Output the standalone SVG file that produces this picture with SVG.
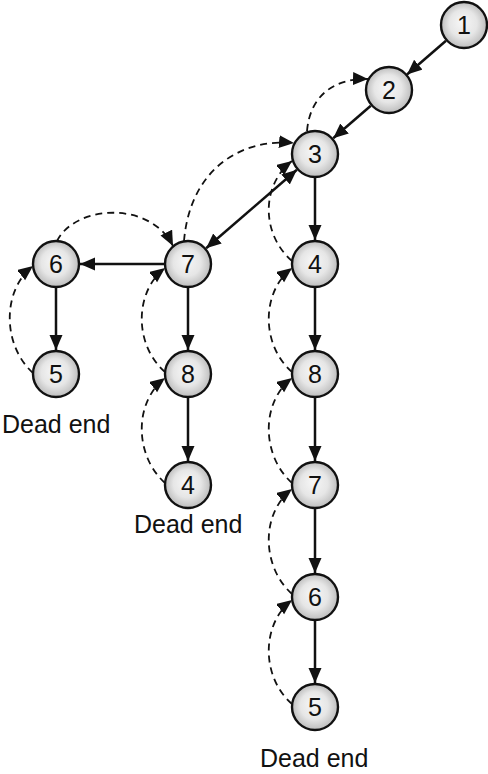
<svg xmlns="http://www.w3.org/2000/svg" width="488" height="774" viewBox="0 0 488 774">
<defs>
<radialGradient id="g" cx="50%" cy="50%" r="50%" fx="45%" fy="42%">
<stop offset="0" stop-color="#f7f7f7"/>
<stop offset="0.6" stop-color="#e6e6e6"/>
<stop offset="1" stop-color="#bdbdbd"/>
</radialGradient>
<marker id="ah" markerUnits="userSpaceOnUse" markerWidth="16" markerHeight="14" refX="15" refY="6.5" orient="auto-start-reverse">
<path d="M0,0 L15,6.5 L0,13 z" fill="#111"/>
</marker>
</defs>
<style>
.n circle{fill:url(#g);stroke:#111;stroke-width:2.4}
.n text,.lab{font-family:"Liberation Sans",Arial,sans-serif;font-size:25px;fill:#111}
.n text{text-anchor:middle}
.s{fill:none;stroke:#111;stroke-width:2.5;marker-end:url(#ah)}
.d{fill:none;stroke:#111;stroke-width:1.8;stroke-dasharray:7 5;marker-end:url(#ah)}
</style>
<rect width="488" height="774" fill="#fff"/>
<g id="connectors">
<line class="s" x1="446" y1="40.7" x2="407" y2="74.5"/>
<line class="s" x1="370.8" y1="105.7" x2="333.2" y2="138.3"/>
<line class="s" x1="296.9" y1="169.7" x2="206.1" y2="248.3" style="marker-start:url(#ah)"/>
<line class="s" x1="164" y1="264" x2="80" y2="264"/>
<line class="s" x1="56" y1="288" x2="56" y2="350"/>
<line class="s" x1="188" y1="288" x2="188" y2="350"/>
<line class="s" x1="188" y1="398" x2="188" y2="461"/>
<line class="s" x1="315" y1="178" x2="315" y2="240"/>
<line class="s" x1="315" y1="288" x2="315" y2="350"/>
<line class="s" x1="315" y1="398" x2="315" y2="461"/>
<line class="s" x1="315" y1="509" x2="315" y2="573"/>
<line class="s" x1="315" y1="621" x2="315" y2="683"/>
<path class="d" d="M307,131 C310,95 335,78 368,79"/>
<path class="d" d="M184,241 C190,170 240,138 294,143"/>
<path class="d" d="M57,241 C75,205 150,200 173,246"/>
<path class="d" d="M33,373 C2,345 2,290 33,266"/>
<path class="d" d="M165,372 C134,345 134,292 165,268"/>
<path class="d" d="M165,483 C134,455 134,402 165,378"/>
<path class="d" d="M292,261 C261,234 261,185 292,161"/>
<path class="d" d="M292,372 C261,345 261,292 292,268"/>
<path class="d" d="M292,483 C261,455 261,402 292,378"/>
<path class="d" d="M292,594 C261,566 261,513 292,489"/>
<path class="d" d="M292,704 C261,677 261,624 292,600"/>
</g>
<g id="n1" class="n"><circle cx="464" cy="25" r="23"/><text x="464" y="34">1</text></g>
<g id="n2" class="n"><circle cx="389" cy="90" r="23"/><text x="389" y="99">2</text></g>
<g id="n3" class="n"><circle cx="315" cy="154" r="23"/><text x="315" y="163">3</text></g>
<g id="n7a" class="n"><circle cx="188" cy="264" r="23"/><text x="188" y="273">7</text></g>
<g id="n6a" class="n"><circle cx="56" cy="264" r="23"/><text x="56" y="273">6</text></g>
<g id="n5a" class="n"><circle cx="56" cy="374" r="23"/><text x="56" y="383">5</text></g>
<g id="n8a" class="n"><circle cx="188" cy="374" r="23"/><text x="188" y="383">8</text></g>
<g id="n4a" class="n"><circle cx="188" cy="485" r="23"/><text x="188" y="494">4</text></g>
<g id="n4b" class="n"><circle cx="315" cy="264" r="23"/><text x="315" y="273">4</text></g>
<g id="n8b" class="n"><circle cx="315" cy="374" r="23"/><text x="315" y="383">8</text></g>
<g id="n7b" class="n"><circle cx="315" cy="485" r="23"/><text x="315" y="494">7</text></g>
<g id="n6b" class="n"><circle cx="315" cy="597" r="23"/><text x="315" y="606">6</text></g>
<g id="n5b" class="n"><circle cx="315" cy="707" r="23"/><text x="315" y="716">5</text></g>
<g id="labels">
<text class="lab" x="2" y="433">Dead end</text>
<text class="lab" x="134" y="533">Dead end</text>
<text class="lab" x="260" y="767">Dead end</text>
</g>
</svg>
